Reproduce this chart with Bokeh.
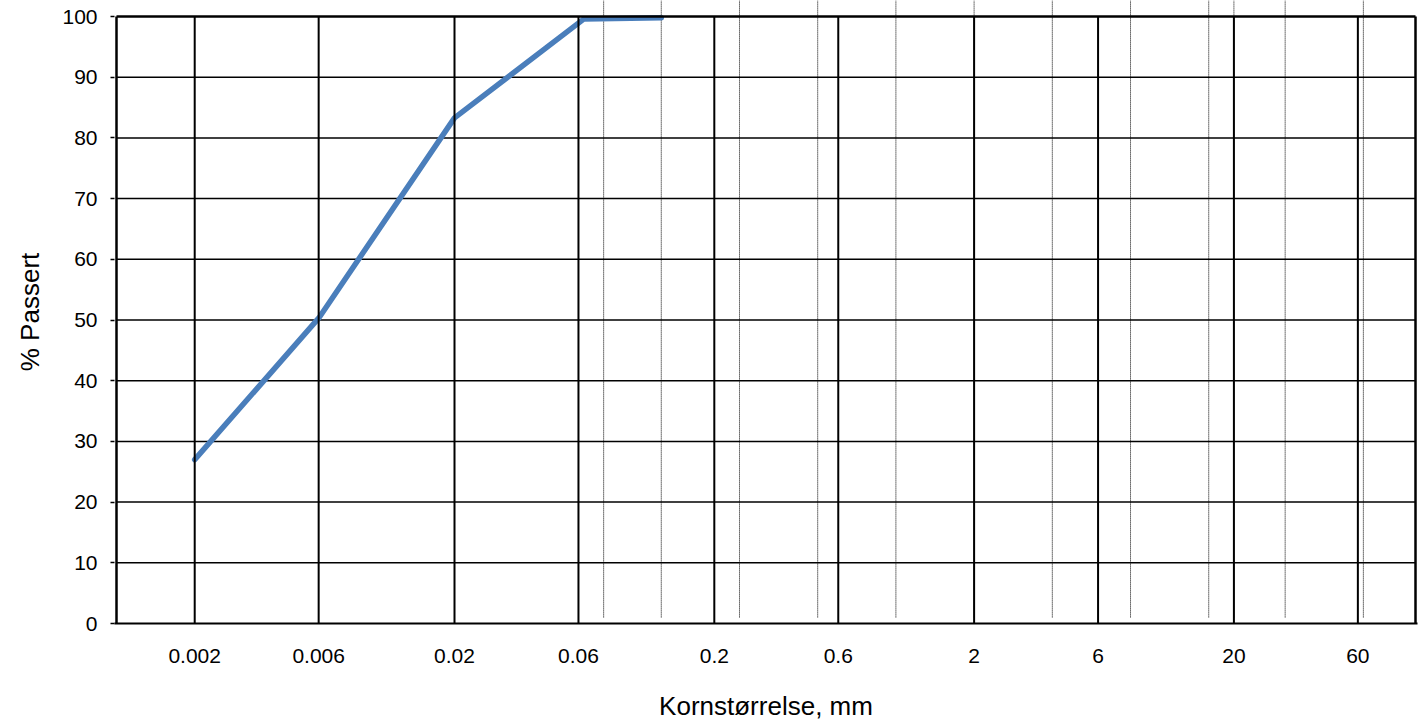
import math
from bokeh.plotting import figure
from bokeh.models import Range1d, FixedTicker
from bokeh.embed import file_html
from bokeh.resources import INLINE

# ---- data ----
grain_size = [0.002, 0.006, 0.02, 0.063, 0.125]
passing = [27.0, 50.3, 83.3, 99.6, 99.8]

x_ticks = [0.002, 0.006, 0.02, 0.06, 0.2, 0.6, 2, 6, 20, 60]
x_tick_labels = ["0.002", "0.006", "0.02", "0.06", "0.2", "0.6", "2", "6", "20", "60"]
sieves = [0.075, 0.125, 0.25, 0.5, 1, 2, 4, 8, 16, 20, 31.5, 63]
y_ticks = [0, 10, 20, 30, 40, 50, 60, 70, 80, 90, 100]

x_min, x_max = 0.001, 100
y_min, y_max = 0, 100

x_title = "Kornstørrelse, mm"
y_title = "% Passert"

# ---- layout ----
px_per_decade = 259.8
px_per_unit = 6.07
top_extra = 16 / px_per_unit

FONT = "Liberation Sans"

p = figure(width=1419, height=724, x_axis_type="log",
           x_range=Range1d(10 ** (math.log10(x_min) - 2 / px_per_decade),
                           10 ** (math.log10(x_max) + 2 / px_per_decade)),
           y_range=Range1d(y_min, y_max + top_extra),
           output_backend="svg", toolbar_location=None,
           min_border_left=114, min_border_right=2, min_border_top=0, min_border_bottom=101)
p.title.visible = False
p.outline_line_color = None
p.grid.visible = False
p.background_fill_color = "white"
p.border_fill_color = "white"

# x axis
xa = p.xaxis[0]
xa.ticker = FixedTicker(ticks=x_ticks)
xa.major_label_overrides = {t: l for t, l in zip(x_ticks, x_tick_labels)}
xa.major_tick_in = 0
xa.major_tick_out = 0
xa.minor_tick_in = 0
xa.minor_tick_out = 0
xa.major_tick_line_color = None
xa.minor_tick_line_color = None
xa.axis_line_color = "black"
xa.axis_line_width = 2
xa.major_label_standoff = 25
xa.major_label_text_font = FONT
xa.major_label_text_font_size = "21px"
xa.major_label_text_color = "black"
xa.axis_label = x_title
xa.axis_label_standoff = 25
xa.axis_label_text_font = FONT
xa.axis_label_text_font_size = "26px"
xa.axis_label_text_font_style = "normal"
xa.axis_label_text_color = "black"

# y axis
ya = p.yaxis[0]
ya.ticker = FixedTicker(ticks=y_ticks)
ya.axis_line_color = None
ya.major_tick_in = 0
ya.major_tick_out = 4
ya.major_tick_line_color = "black"
ya.major_tick_line_width = 1.5
ya.minor_tick_line_color = None
ya.minor_tick_in = 0
ya.minor_tick_out = 0
ya.major_label_standoff = 13
ya.major_label_text_font = FONT
ya.major_label_text_font_size = "21px"
ya.major_label_text_color = "black"
ya.axis_label = y_title
ya.axis_label_standoff = 14
ya.axis_label_text_font = FONT
ya.axis_label_text_font_size = "26px"
ya.axis_label_text_font_style = "normal"
ya.axis_label_text_color = "black"

# horizontal grid lines
inner = y_ticks[1:-1]
p.segment(x0=x_min, y0=inner, x1=x_max, y1=inner, line_color="black", line_width=1.5)

# dotted sieve lines (extend above the plot top)
p.segment(x0=sieves, y0=1, x1=sieves, y1=y_max + top_extra,
          line_color="black", line_width=1, line_dash="1 1")

# curve
p.line(grain_size, passing, line_color="#4a7ebb", line_width=5.5,
       line_cap="round", line_join="round")

# solid vertical lines at labelled sizes
p.segment(x0=x_ticks, y0=y_min, x1=x_ticks, y1=y_max, line_color="black", line_width=2)

# frame borders
p.segment(x0=[x_min, x_max, x_min], y0=[y_min, y_min, y_max],
          x1=[x_min, x_max, x_max], y1=[y_max, y_max, y_max],
          line_color="black", line_width=2.5)

open("out.html", "w").write(file_html(p, INLINE))
